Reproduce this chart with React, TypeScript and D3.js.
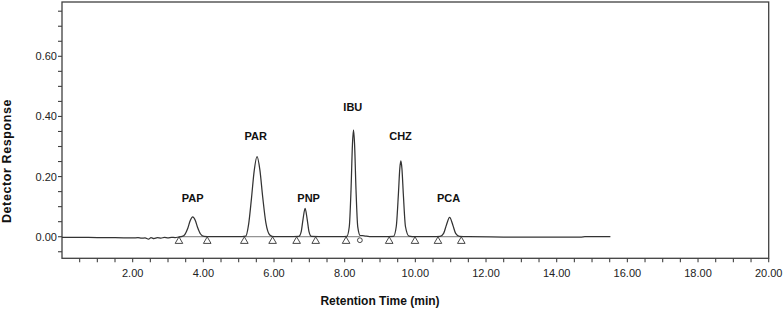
import React from "react";
import * as d3 from "d3";

// ---- data ----
const trace: [number, number][] = [
  [0.0, -0.002], [0.5, -0.002], [1.0, -0.003], [1.5, -0.003], [2.0, -0.004],
  [2.15, -0.003], [2.25, -0.005], [2.35, -0.004], [2.45, -0.008], [2.52, -0.003],
  [2.6, -0.006], [2.7, -0.003], [2.8, -0.005], [2.9, -0.002], [3.0, -0.004],
  [3.1, -0.002], [3.2, -0.003], [3.3, -0.001],
  [3.4, 0.001], [3.48, 0.008], [3.56, 0.028], [3.63, 0.054], [3.7, 0.066],
  [3.77, 0.055], [3.84, 0.03], [3.92, 0.009], [4.02, 0.001], [4.2, 0.0],
  [4.6, 0.0], [5.0, 0.0],
  [5.2, 0.002], [5.28, 0.04], [5.36, 0.125], [5.44, 0.22], [5.52, 0.266],
  [5.6, 0.222], [5.68, 0.132], [5.77, 0.046], [5.88, 0.006], [6.0, 0.0], [6.4, 0.0],
  [6.7, 0.001], [6.77, 0.017], [6.82, 0.057], [6.88, 0.094], [6.94, 0.057],
  [6.99, 0.017], [7.06, 0.001], [7.5, 0.0], [7.9, 0.0],
  [8.06, 0.001], [8.13, 0.033], [8.18, 0.158], [8.22, 0.307], [8.25, 0.355],
  [8.28, 0.307], [8.32, 0.158], [8.37, 0.033], [8.44, 0.004], [8.55, 0.003],
  [8.7, 0.0], [9.1, 0.0],
  [9.38, 0.001], [9.46, 0.034], [9.52, 0.141], [9.56, 0.227], [9.59, 0.252],
  [9.62, 0.227], [9.66, 0.141], [9.72, 0.034], [9.82, 0.002], [10.0, 0.0], [10.5, 0.0],
  [10.7, 0.001], [10.8, 0.011], [10.88, 0.039], [10.97, 0.064], [11.06, 0.039],
  [11.14, 0.011], [11.25, 0.001], [11.5, 0.0], [12.5, -0.001], [13.5, -0.001],
  [14.7, -0.001], [14.8, 0.0], [15.52, 0.0],
];

const peakNames = ["PAP", "PAR", "PNP", "IBU", "CHZ", "PCA"];
const labelTimes = [3.7, 5.48, 6.98, 8.23, 9.58, 10.94];
const labelLevels = [0.116, 0.322, 0.116, 0.419, 0.322, 0.116];

const triangleTimes = [3.31, 4.11, 5.16, 5.96, 6.64, 7.18, 8.04, 9.26, 9.99, 10.64, 11.3];
const circleTimes = [8.43];
const baselineSegments: [number, number][] = [
  [3.31, 4.11], [5.16, 5.96], [6.64, 7.18], [8.04, 8.43], [9.26, 9.99], [10.64, 11.3],
];

const xMajorTicks = [2, 4, 6, 8, 10, 12, 14, 16, 18, 20];
const xMinorTicks = d3.range(1, 41).map((i) => i * 0.5);
const yMajorTicks = [0, 0.2, 0.4, 0.6];
const yMinorTicks = d3.range(-1, 16).map((i) => i * 0.05);

const xTitle = "Retention Time (min)";
const yTitle = "Detector Response";

// ---- layout ----
const W = 783;
const H = 310;
const left = 62;
const right = 768.7;
const top = 2;
const bottom = 258.3;

export default function App() {
  const x = d3.scaleLinear().domain([0, 20]).range([left, right]);
  const y = d3.scaleLinear().domain([-0.0718, 0.7806]).range([bottom, top]);
  const line = d3
    .line<[number, number]>()
    .x((d) => x(d[0]))
    .y((d) => y(d[1]))
    .curve(d3.curveMonotoneX);
  const tri = d3.symbol().type(d3.symbolTriangle).size(25)();
  const axisColor = "#404040";
  const font = "'Liberation Sans', Arial, sans-serif";

  return (
    <svg
      width={W}
      height={H}
      style={{ position: "absolute", left: 0, top: 0, background: "#fff" }}
      fontFamily={font}
    >
      <rect x={0} y={0} width={W} height={H} fill="#fff" />
      {/* frame */}
      <rect
        x={left}
        y={top}
        width={right - left}
        height={bottom - top}
        fill="none"
        stroke={axisColor}
        strokeWidth={1.3}
      />
      {/* y ticks */}
      {yMinorTicks.map((t, i) => (
        <line key={"ym" + i} x1={left - 4} x2={left} y1={y(t)} y2={y(t)} stroke={axisColor} strokeWidth={1.1} />
      ))}
      {yMajorTicks.map((t, i) => (
        <text
          key={"yl" + i}
          x={left - 5}
          y={y(t)}
          textAnchor="end"
          dominantBaseline="central"
          fontSize={11}
          fill="#222"
        >
          {t.toFixed(2)}
        </text>
      ))}
      {/* x ticks */}
      {xMinorTicks.map((t, i) => (
        <line key={"xm" + i} x1={x(t)} x2={x(t)} y1={bottom} y2={bottom + 4} stroke={axisColor} strokeWidth={1.1} />
      ))}
      {xMajorTicks.map((t, i) => (
        <text key={"xl" + i} x={x(t)} y={277} textAnchor="middle" fontSize={11} fill="#222">
          {t.toFixed(2)}
        </text>
      ))}
      {/* titles */}
      <text x={380} y={305} textAnchor="middle" fontSize={12} fontWeight="bold" fill="#111">
        {xTitle}
      </text>
      <text
        transform={`translate(10.5,161) rotate(-90)`}
        textAnchor="middle"
        fontSize={12.5}
        fontWeight="bold"
        fill="#111"
        letterSpacing={0.6}
      >
        {yTitle}
      </text>
      {/* integration baselines */}
      {baselineSegments.map((s, i) => (
        <line key={"bs" + i} x1={x(s[0])} x2={x(s[1])} y1={y(0)} y2={y(0)} stroke="#555" strokeWidth={0.8} />
      ))}
      {/* trace */}
      <path d={line(trace) || ""} fill="none" stroke="#333" strokeWidth={1.25} />
      {/* markers */}
      {triangleTimes.map((t, i) => (
        <path
          key={"tr" + i}
          d={tri || ""}
          transform={`translate(${x(t)},${y(0) + 4.5})`}
          fill="#fff"
          stroke="#333"
          strokeWidth={0.9}
        />
      ))}
      {circleTimes.map((t, i) => (
        <circle key={"c" + i} cx={x(t)} cy={y(0) + 3.5} r={2.4} fill="#fff" stroke="#333" strokeWidth={0.9} />
      ))}
      {/* peak labels */}
      {peakNames.map((n, i) => (
        <text
          key={"pk" + i}
          x={x(labelTimes[i])}
          y={y(labelLevels[i])}
          textAnchor="middle"
          fontSize={11}
          fontWeight="bold"
          fill="#111"
        >
          {n}
        </text>
      ))}
    </svg>
  );
}
